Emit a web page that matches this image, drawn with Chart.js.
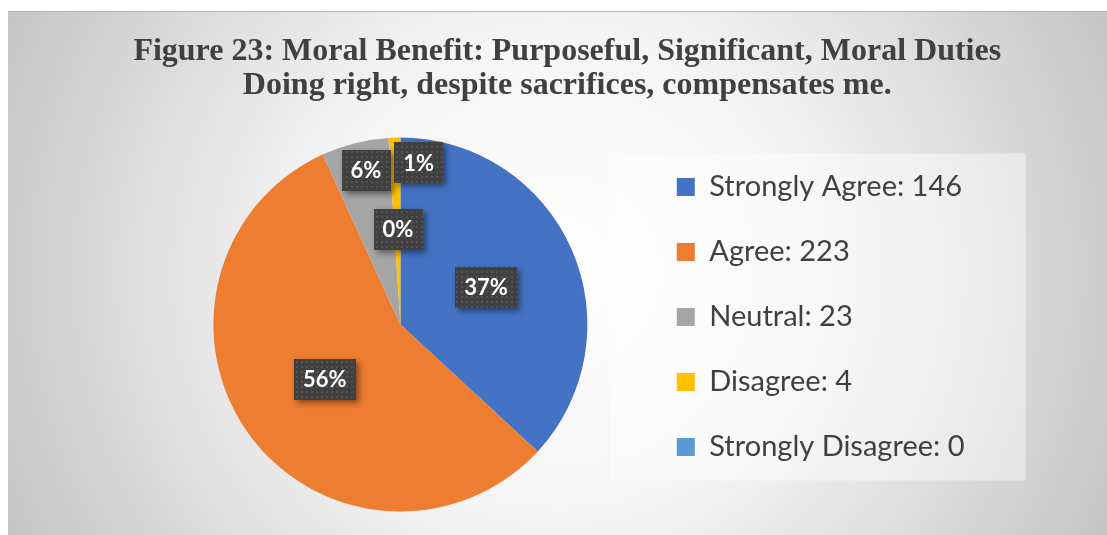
<!DOCTYPE html>
<html>
<head>
<meta charset="utf-8">
<script src="https://cdn.jsdelivr.net/npm/chart.js@4.4.1/dist/chart.umd.min.js"></script>
<style>
  html, body { margin: 0; padding: 0; background: #fff; }
  #wrap { width: 1107px; height: 535px; }
</style>
</head>
<body>
<div id="wrap"><canvas id="pie" width="1107" height="535"></canvas></div>
<script>
// survey answers
const categories = ['Strongly Agree', 'Agree', 'Neutral', 'Disagree', 'Strongly Disagree'];
const responses = [146, 223, 23, 4, 0];
const sliceColors = ['#4472C4', '#ED7D31', '#A5A5A5', '#FFC000', '#5B9BD5'];
const titleLines = [
    'Figure 23: Moral Benefit: Purposeful, Significant, Moral Duties',
    'Doing right, despite sacrifices, compensates me.'
];

// where each % tag sits: share of the radius, and a small clockwise nudge (deg)
const labelRadius = [0.5, 0.5, 0.845, 0.87, 0.51];
const labelNudge = [0, 0, 1.5, 8.3, -1.5];

// dark tag fill with the little dot texture
function makeDotPattern(ctx) {
    const tile = document.createElement('canvas');
    tile.width = 5;
    tile.height = 5;
    const t = tile.getContext('2d');
    t.fillStyle = '#404040';
    t.fillRect(0, 0, 5, 5);
    t.fillStyle = '#525252';
    t.fillRect(1, 1, 2, 2);
    return ctx.createPattern(tile, 'repeat');
}

// =====================================================
// background, frame and legend panel
// =====================================================
const backdrop = {
    id: 'backdrop',
    beforeDraw(chart) {
        const {ctx, width, height} = chart;
        const x0 = 8, y0 = 11;
        ctx.save();
        ctx.fillStyle = '#ffffff';
        ctx.fillRect(0, 0, width, height);

        const cx = (x0 + width) / 2, cy = (y0 + height) / 2;
        const g = ctx.createRadialGradient(cx, cy, 0, cx, cy, 600);
        g.addColorStop(0, '#ffffff');
        g.addColorStop(0.4, '#f5f5f5');
        g.addColorStop(0.6, '#e6e6e6');
        g.addColorStop(1, '#c6c6c6');
        ctx.fillStyle = g;
        ctx.fillRect(x0, y0, width - x0, height - y0);
        ctx.fillStyle = '#b4b4b4';
        ctx.fillRect(x0, y0, width - x0, 1);

        // translucent panel behind the legend entries
        const boxes = chart.legend.legendHitBoxes;
        if (boxes && boxes.length) {
            const first = boxes[0], last = boxes[boxes.length - 1];
            const left = first.left - 67;
            const top = first.top - 19;
            const bottom = last.top + last.height + 19;
            ctx.fillStyle = 'rgba(255,255,255,0.45)';
            ctx.fillRect(left, top, 416, bottom - top);
        }
        ctx.restore();
    }
};

// move the legend column a bit up and to the left
const legendShift = {
    id: 'legendShift',
    afterLayout(chart) {
        const lg = chart.legend;
        lg.top -= 7.5;
        lg.bottom -= 7.5;
        lg.left -= 40;
        lg.right -= 40;
    }
};

// =====================================================
// percentage tags on the slices
// =====================================================
const sliceLabels = {
    id: 'sliceLabels',
    afterDatasetsDraw(chart) {
        const {ctx} = chart;
        const meta = chart.getDatasetMeta(0);
        const data = chart.data.datasets[0].data;
        const total = data.reduce((a, b) => a + b, 0);
        const fill = makeDotPattern(ctx);

        ctx.save();
        ctx.font = 'bold 22px Lato';
        ctx.textAlign = 'center';
        ctx.textBaseline = 'middle';
        meta.data.forEach((arc, i) => {
            const p = arc.getProps(['x', 'y', 'startAngle', 'endAngle', 'outerRadius'], true);
            const a = (p.startAngle + p.endAngle) / 2 + labelNudge[i] * Math.PI / 180;
            const r = p.outerRadius * labelRadius[i];
            const px = p.x + Math.cos(a) * r;
            const py = p.y + Math.sin(a) * r;
            const text = Math.round(data[i] / total * 100) + '%';
            const w = ctx.measureText(text).width + 18;
            const h = 41;

            ctx.shadowColor = 'rgba(0,0,0,0.45)';
            ctx.shadowBlur = 6;
            ctx.shadowOffsetX = 3;
            ctx.shadowOffsetY = 3;
            ctx.fillStyle = fill;
            ctx.fillRect(Math.round(px - w / 2), Math.round(py - h / 2), Math.round(w), h);

            ctx.shadowColor = 'transparent';
            ctx.fillStyle = '#ffffff';
            ctx.fillText(text, px, py + 1);
        });
        ctx.restore();
    }
};

new Chart(document.getElementById('pie'), {
    type: 'pie',
    data: {
        labels: categories.map((c, i) => `${c}: ${responses[i]}`),
        datasets: [{
            data: responses,
            backgroundColor: sliceColors,
            borderWidth: 0,
            hoverOffset: 0
        }]
    },
    options: {
        responsive: false,
        animation: false,
        layout: {
            padding: { left: 120, right: 92.5, top: 11, bottom: 23.5 }
        },
        plugins: {
            title: {
                display: true,
                text: titleLines,
                color: '#404040',
                font: {
                    family: "'Liberation Serif', 'Times New Roman', serif",
                    size: 32,
                    weight: 'bold',
                    lineHeight: 1.0625
                },
                padding: { top: 23.5, bottom: 35 }
            },
            legend: {
                position: 'right',
                fullSize: false,
                align: 'center',
                labels: {
                    boxWidth: 18,
                    boxHeight: 18,
                    padding: 36,
                    color: '#404040',
                    font: { family: 'Lato', size: 29 }
                }
            },
            tooltip: { enabled: false }
        }
    },
    plugins: [backdrop, legendShift, sliceLabels]
});
</script>
</body>
</html>
